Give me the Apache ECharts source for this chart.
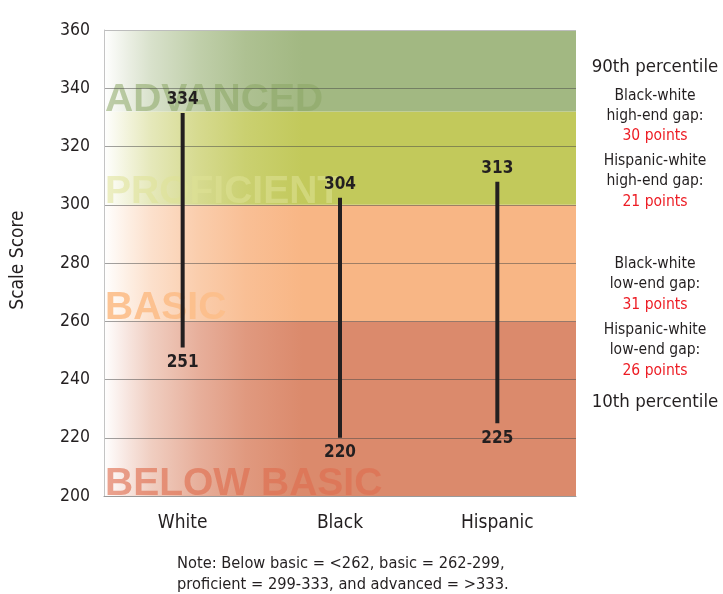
<!DOCTYPE html>
<html>
<head>
<meta charset="utf-8">
<script src="https://cdn.jsdelivr.net/npm/echarts@6/dist/echarts.min.js"></script>
<style>
html,body{margin:0;padding:0;background:#fff;}
#chart{width:723px;height:594px;}
</style>
</head>
<body>
<div id="chart"></div>
<script>
// ---- data ----
const categories = ['White', 'Black', 'Hispanic'];
const lowScores = [251, 220, 225];          // 10th percentile
const highScores = [334, 304, 313];         // 90th percentile (labels)
const lineTops = [331.5, 302.4, 307.9];     // where the drawn lines end
const bandNames = ['BELOW BASIC', 'BASIC', 'PROFICIENT', 'ADVANCED'];
const bandLow = [200, 260, 300, 332];
const bandHigh = [260, 300, 332, 360];
const yMin = 200, yMax = 360, yStep = 20;
const sideNotes = [
  ['90th percentile', 'big'],
  ['Black-white', 'n'], ['high-end gap:', 'n'], ['30 points', 'r'],
  ['Hispanic-white', 'n'], ['high-end gap:', 'n'], ['21 points', 'r'],
  ['Black-white', 'n'], ['low-end gap:', 'n'], ['31 points', 'r'],
  ['Hispanic-white', 'n'], ['low-end gap:', 'n'], ['26 points', 'r'],
  ['10th percentile', 'big']
];
const noteLines = ['Note: Below basic = <262, basic = 262-299,', 'proficient = 299-333, and advanced = >333.'];

// ---- styles ----
const NARROW = "'Liberation Sans Narrow', 'DejaVu Sans Condensed', 'Arial Narrow', sans-serif";
const BANDCOL = [[219, 138, 108], [248, 182, 133], [194, 201, 91], [162, 184, 130]];
const LABELCOL = ['rgba(222,108,78,0.62)', 'rgba(252,190,138,0.9)', 'rgba(222,226,150,0.55)', 'rgba(138,165,100,0.55)'];
const LABELDY = [-12, -13, -13, -11];
const INK = '#231f20';
const RED = '#ed1c24';
const sideY = [67, 96, 116, 136, 161, 181, 202, 264, 284, 305, 330, 350, 371, 402];
// gradient ramp (position across plot, share of band colour)
const RAMP = [[0, 0], [0.05, 0.22], [0.1, 0.42], [0.2, 0.68], [0.3, 0.87], [0.42, 1], [1, 1]];

function mix(c, t) {
  const r = Math.round(255 + (c[0] - 255) * t);
  const g = Math.round(255 + (c[1] - 255) * t);
  const b = Math.round(255 + (c[2] - 255) * t);
  return 'rgb(' + r + ',' + g + ',' + b + ')';
}

const chart = echarts.init(document.getElementById('chart'), null, {renderer: 'canvas'});

const bandData = bandNames.map((n, i) => [0, bandLow[i], bandHigh[i], i]);
const barData = categories.map((c, i) => [i, lowScores[i], lineTops[i], lowScores[i], highScores[i]]);

const splitColors = [];
for (let v = yMin; v <= yMax; v += yStep) {
  splitColors.push(v === yMin ? '#9a9a9a' : (v === yMax ? '#bdbdbd' : 'rgba(70,70,70,0.5)'));
}

const graphics = [];
sideNotes.forEach((s, i) => {
  graphics.push({
    type: 'text', x: 655, y: sideY[i],
    style: {
      text: s[0], fontFamily: NARROW,
      fontSize: s[1] === 'big' ? 18.5 : 15.5,
      fill: s[1] === 'r' ? RED : INK,
      align: 'center', verticalAlign: 'middle'
    }
  });
});
noteLines.forEach((t, i) => {
  graphics.push({
    type: 'text', x: 177, y: 564 + i * 21,
    style: {text: t, fontFamily: NARROW, fontSize: 16.3, fill: INK, align: 'left', verticalAlign: 'middle'}
  });
});
graphics.push({
  type: 'text', x: 18, y: 260, rotation: Math.PI / 2,
  style: {text: 'Scale Score', fontFamily: NARROW, fontSize: 19, fill: INK, align: 'center', verticalAlign: 'middle'}
});

const option = {
  animation: false,
  grid: {left: 104, top: 30, width: 472, height: 466, show: false},
  xAxis: {
    type: 'category', data: categories, z: 1,
    axisLine: {show: true, lineStyle: {color: '#9a9a9a', width: 1}},
    axisTick: {show: false},
    axisLabel: {fontSize: 19, color: INK, margin: 18, fontFamily: NARROW}
  },
  yAxis: {
    type: 'value', min: yMin, max: yMax, interval: yStep, z: 1,
    axisLine: {show: true, lineStyle: {color: '#c4c4c4', width: 1}},
    axisTick: {show: false},
    axisLabel: {fontSize: 17.5, color: INK, margin: 14, fontFamily: NARROW},
    splitLine: {show: true, lineStyle: {color: splitColors, width: 1}}
  },
  graphic: graphics,
  series: [
    {
      type: 'custom', z: 0, clip: true, silent: true,
      encode: {x: 0, y: [1, 2]},
      data: bandData,
      renderItem: function (params, api) {
        const cs = params.coordSys;
        const lo = api.value(1), hi = api.value(2), idx = api.value(3);
        const yTop = api.coord([0, hi])[1];
        const yBot = api.coord([0, lo])[1];
        const grad = new echarts.graphic.LinearGradient(0, 0, 1, 0,
          RAMP.map(s => ({offset: s[0], color: mix(BANDCOL[idx], s[1])})));
        const clip = {x: cs.x, y: cs.y, width: cs.width, height: cs.height};
        return {
          type: 'group',
          children: [
            {type: 'rect', shape: {x: cs.x, y: yTop, width: cs.width, height: yBot - yTop}, style: {fill: grad}},
            {
              type: 'text',
              clipPath: {type: 'rect', shape: clip},
              style: {
                text: bandNames[idx], x: cs.x + 1, y: yBot + LABELDY[idx],
                font: "bold 39px 'Liberation Sans', Arial, sans-serif",
                fill: LABELCOL[idx], align: 'left', verticalAlign: 'middle'
              }
            }
          ]
        };
      }
    },
    {
      type: 'custom', z: 3, silent: true,
      encode: {x: 0, y: [1, 2]},
      data: barData,
      renderItem: function (params, api) {
        const i = api.value(0);
        const pLow = api.coord([i, api.value(1)]);
        const pTop = api.coord([i, api.value(2)]);
        const fnt = "bold 17px " + NARROW;
        return {
          type: 'group',
          children: [
            {type: 'line', shape: {x1: pLow[0], y1: pLow[1], x2: pTop[0], y2: pTop[1]},
              style: {stroke: INK, lineWidth: 4}},
            {type: 'text', style: {text: String(api.value(4)), x: pTop[0], y: pTop[1] - 13,
              font: fnt, fill: INK, align: 'center', verticalAlign: 'middle'}},
            {type: 'text', style: {text: String(api.value(3)), x: pLow[0], y: pLow[1] + 15,
              font: fnt, fill: INK, align: 'center', verticalAlign: 'middle'}}
          ]
        };
      }
    }
  ]
};
chart.setOption(option);
</script>
</body>
</html>
